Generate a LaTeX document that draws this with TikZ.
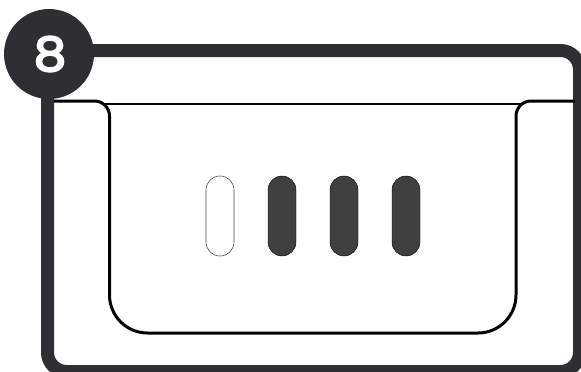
\documentclass[tikz,border=0pt]{standalone}
\usepackage{fontspec}
\newfontfamily\badgefont[FakeBold=4]{Poppins}
\definecolor{framegray}{HTML}{2F2E33}
\definecolor{pillgray}{HTML}{404040}
\tikzset{
	frameline/.style = {line width = 13pt, draw = framegray, rounded corners = 19pt},
	trayline/.style = {line width = 3pt, draw = black},
	pillon/.style = {draw = black, line width = 0.4pt, fill = pillgray, rounded corners = 13.9pt},
	pilloff/.style = {draw = black!70, line width = 0.6pt, fill = white, rounded corners = 13.9pt}
}

\begin{document}
\begin{tikzpicture}[x = 1pt, y = -1pt]
	\clip (0,0) rectangle (581,372);
	% outer frame
	\draw [frameline] (47.5,50.5) -- (579.5,50.5) -- (579.5,371.5) -- (47.5,371.5) -- cycle;
	% tray
	\draw [trayline, line width = 2.2pt] (105,104) -- (523,104);
	\draw [trayline, rounded corners = 15pt] (54,101) -- (109.5,101) -- (109.5,200);
	\draw [trayline, rounded corners = 38pt] (109.5,200) -- (109.5,333) -- (516,333) -- (516,200);
	\draw [trayline, rounded corners = 15pt] (516,200) -- (516,101) -- (575,101);
	% slots
	\draw [pilloff] (206,176) rectangle (234,256);
	\draw [pillon] (268,176) rectangle (296,256);
	\draw [pillon] (330,176) rectangle (358,256);
	\draw [pillon] (392,176) rectangle (420,256);
	% badge
	\fill [framegray] (49,54) circle (45);
	\node [text = white, font = \badgefont\fontsize{47}{47}\selectfont, xscale = 1.1, inner sep = 0pt] (eight) at (50,54) {8};
\end{tikzpicture}
\end{document}
